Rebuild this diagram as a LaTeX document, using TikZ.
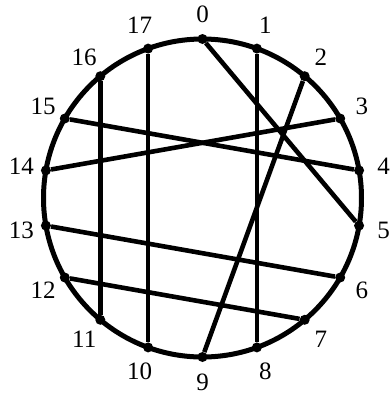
\documentclass[tikz,border=0pt]{standalone}
\usepackage{fontspec}
\setmainfont{Liberation Serif}
\usetikzlibrary{calc}
\begin{document}
\begin{tikzpicture}[x=1pt,y=1pt,
  ring/.style={line width=5pt},
  chord/.style={line width=4.6pt},
  pt/.style={circle,fill=black,inner sep=0pt,minimum size=10pt},
  lab/.style={font=\fontsize{25}{25}\selectfont,inner sep=0pt}]
\useasboundingbox (0,0) rectangle (390,-394);
\coordinate (c) at (202.5,-198);
\draw[ring] (c) circle (159);
\foreach \i in {0,...,17}{
  \node[pt] (p\i) at ($(c)+({90-20*\i}:159)$) {};
  \node[lab] (l\i) at ($(c)+({90-20*\i}:184)$) {\i};
}
\draw[chord] (p0) -- (p5);
\draw[chord] (p1) -- (p8);
\draw[chord] (p2) -- (p9);
\draw[chord] (p3) -- (p14);
\draw[chord] (p15) -- (p4);
\draw[chord] (p16) -- (p11);
\draw[chord] (p17) -- (p10);
\draw[chord] (p13) -- (p6);
\draw[chord] (p12) -- (p7);
\end{tikzpicture}
\end{document}
